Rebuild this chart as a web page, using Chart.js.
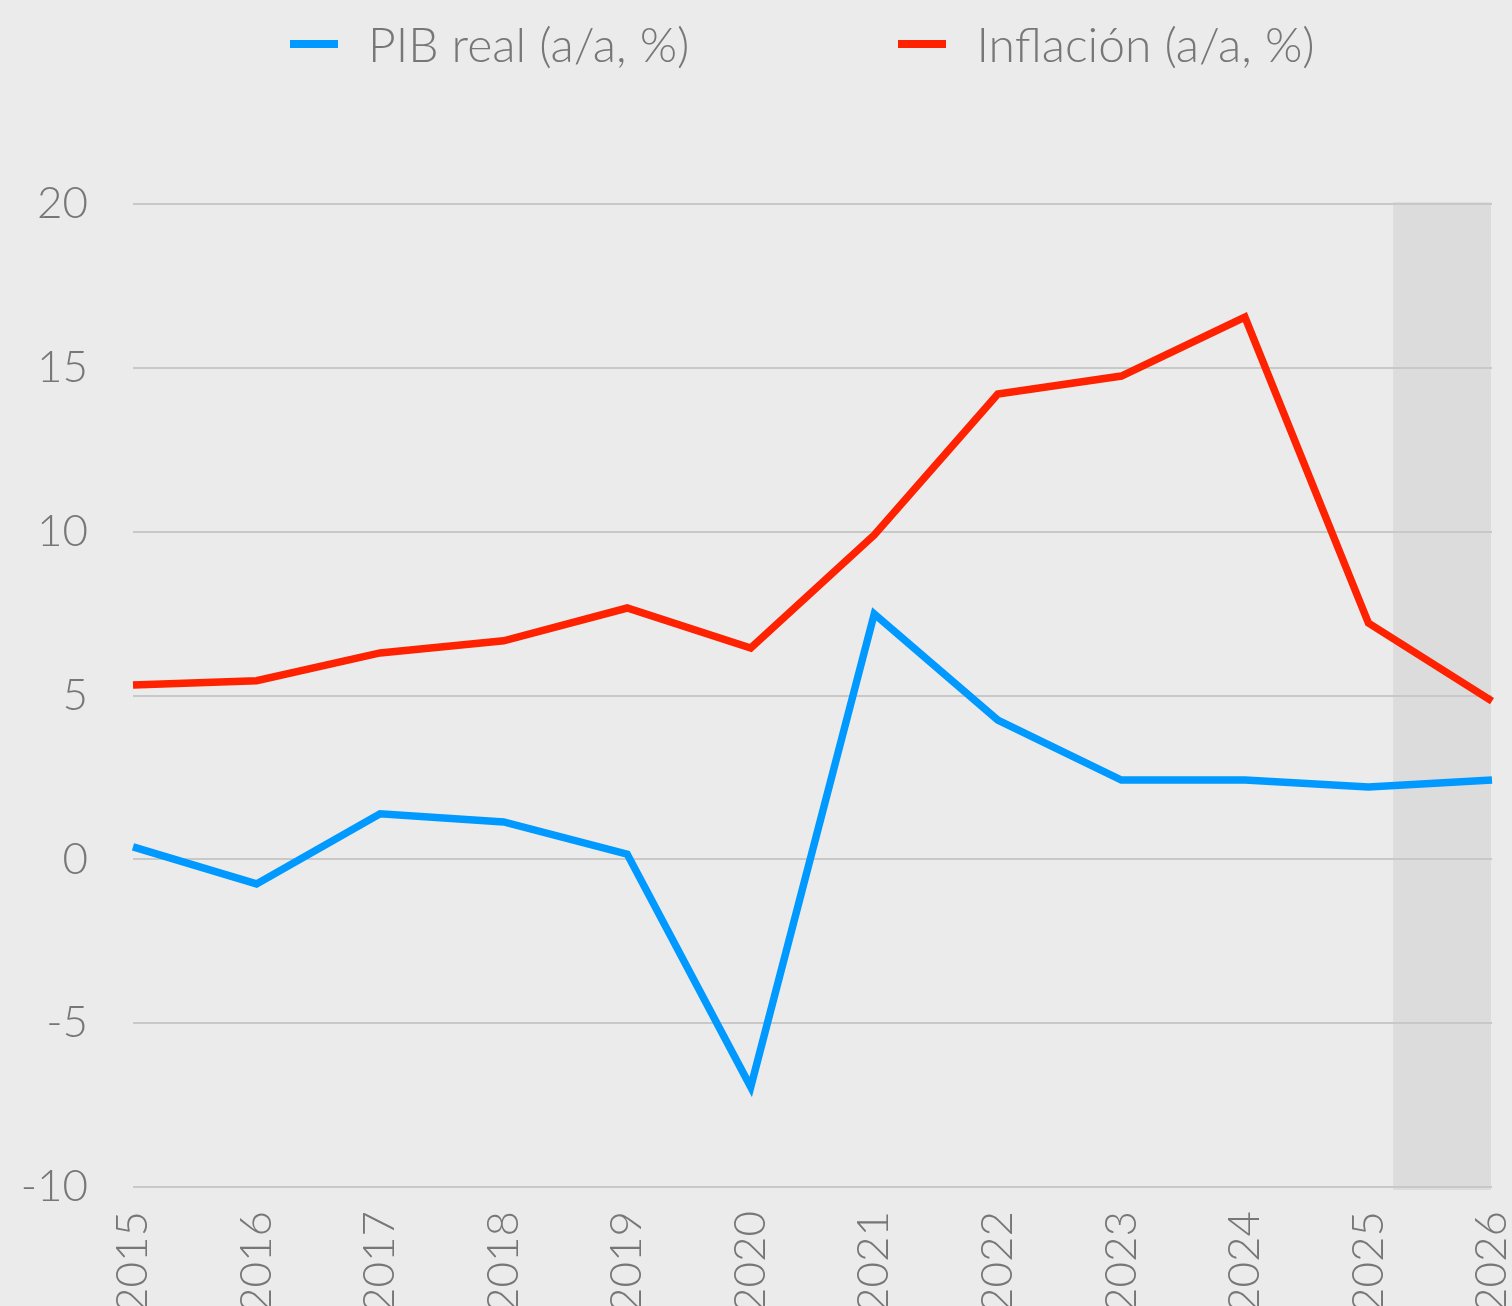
<!DOCTYPE html>
<html lang="es">
<head>
<meta charset="utf-8">
<title>PIB real e inflación</title>
<script src="https://cdn.jsdelivr.net/npm/chart.js@4.4.1/dist/chart.umd.min.js"></script>
<style>
  html, body {
    margin: 0;
    padding: 0;
    background: #ebebeb;
    overflow: hidden;
  }
  .wrap {
    position: relative;
    width: 1512px;
    height: 1306px;
  }
  .legend {
    position: absolute;
    top: 15px;
    left: 290px;
    display: flex;
    align-items: center;
    font-family: Lato, sans-serif;
    font-weight: 300;
    font-size: 48px;
    color: #777777;
    white-space: nowrap;
  }
  .legend-item {
    display: flex;
    align-items: center;
    margin-right: 209px;
  }
  .swatch {
    display: inline-block;
    width: 48px;
    height: 8px;
    margin-right: 30px;
  }
</style>
</head>
<body>
<div class="wrap">
  <div class="legend" id="legend"></div>
  <canvas id="chart" width="1512" height="1306"></canvas>
</div>
<script>
const years = ["2015", "2016", "2017", "2018", "2019", "2020", "2021", "2022", "2023", "2024", "2025", "2026"];
const gdpValues = [0.38, -0.75, 1.39, 1.14, 0.16, -6.95, 7.49, 4.25, 2.42, 2.42, 2.21, 2.42];
const inflationValues = [5.32, 5.45, 6.30, 6.67, 7.67, 6.45, 9.90, 14.20, 14.75, 16.55, 7.21, 4.83];
const seriesNames = ["PIB real (a/a, %)", "Inflación (a/a, %)"];
const seriesColors = ["#0099ff", "#ff2200"];
const yTicks = [-10, -5, 0, 5, 10, 15, 20];
// forecast band, in category index units (2025.2 -> 2026)
const shadeFrom = 10.2;
const shadeTo = 11;

const textColor = "#777777";
const fontFamily = "Lato, sans-serif";

const legend = document.getElementById("legend");
legend.innerHTML = seriesNames
  .map((name, i) => `
    <div class="legend-item">
      <span class="swatch" style="background:${seriesColors[i]}"></span>
      <span>${name}</span>
    </div>
  `)
  .join("");

const shadePlugin = {
  id: "shade",
  beforeDraw(chart) {
    const { ctx, chartArea, scales } = chart;
    const x1 = scales.x.getPixelForValue(shadeFrom);
    const x2 = scales.x.getPixelForValue(shadeTo);
    ctx.save();
    ctx.fillStyle = "#dcdcdc";
    ctx.fillRect(x1, chartArea.top - 2, x2 - x1 - 1, chartArea.bottom - chartArea.top + 5);
    ctx.restore();
  },
};

new Chart(document.getElementById("chart"), {
  type: "line",
  data: {
    labels: years,
    datasets: [
      {
        label: seriesNames[0],
        data: gdpValues,
        borderColor: seriesColors[0],
        backgroundColor: seriesColors[0],
        borderWidth: 7.5,
        pointRadius: 0,
        tension: 0,
        borderJoinStyle: "miter",
      },
      {
        label: seriesNames[1],
        data: inflationValues,
        borderColor: seriesColors[1],
        backgroundColor: seriesColors[1],
        borderWidth: 7.5,
        pointRadius: 0,
        tension: 0,
        borderJoinStyle: "miter",
      },
    ],
  },
  options: {
    responsive: false,
    animation: false,
    layout: {
      padding: { top: 204, right: 20, left: 0, bottom: 0 },
    },
    plugins: {
      legend: { display: false },
      tooltip: { enabled: false },
    },
    scales: {
      x: {
        offset: false,
        grid: { display: false, drawTicks: false },
        border: { display: false },
        ticks: {
          color: textColor,
          font: { family: fontFamily, size: 44, weight: 300 },
          maxRotation: 90,
          minRotation: 90,
          padding: 24,
          autoSkip: false,
        },
        afterFit(scale) {
          scale.height = 119;
          scale.paddingLeft = 0;
          scale.paddingRight = 0;
        },
      },
      y: {
        min: yTicks[0],
        max: yTicks[yTicks.length - 1],
        afterBuildTicks(scale) {
          scale.ticks = yTicks.map(v => ({ value: v }));
        },
        grid: { color: "#c8c8c8", lineWidth: 2, drawTicks: false },
        border: { display: false },
        ticks: {
          color: textColor,
          font: { family: fontFamily, size: 44, weight: 300 },
          padding: 45,
        },
        afterFit(scale) {
          scale.width = 133;
        },
      },
    },
  },
  plugins: [shadePlugin],
});
</script>
</body>
</html>
